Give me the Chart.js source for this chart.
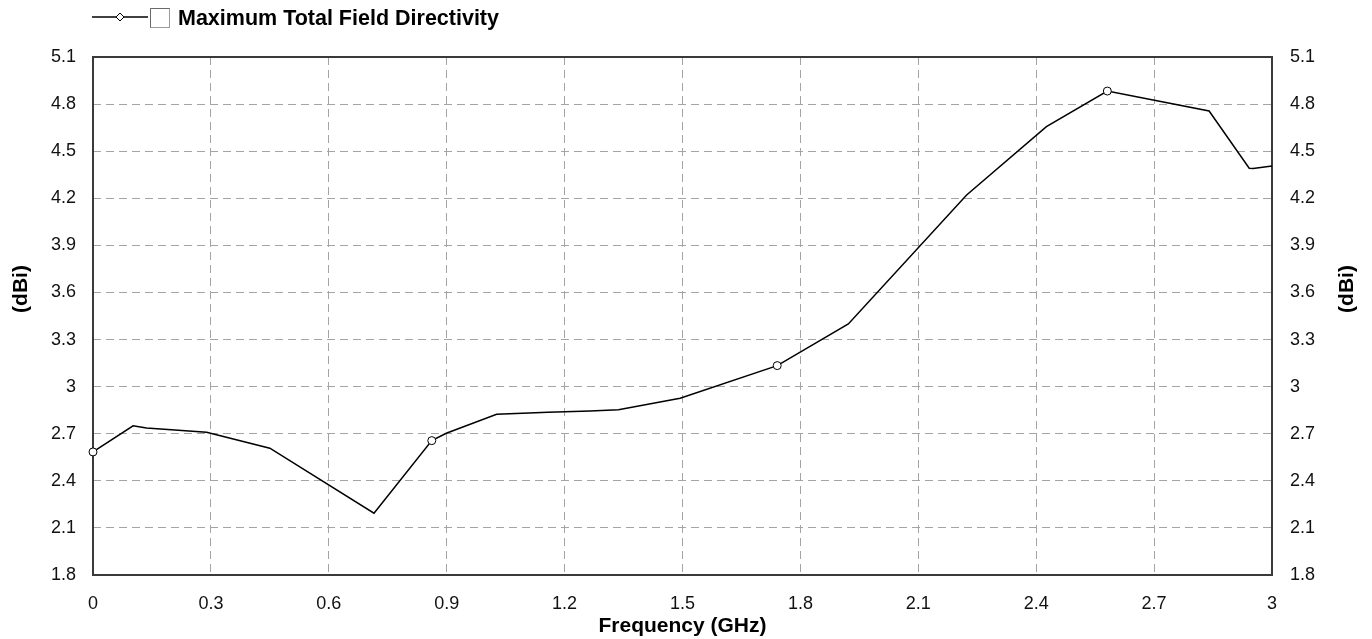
<!DOCTYPE html>
<html>
<head>
<meta charset="utf-8">
<script src="https://cdn.jsdelivr.net/npm/chart.js@4.4.1/dist/chart.umd.min.js"></script>
<style>
  html, body { margin: 0; padding: 0; background: #ffffff; }
  #wrap { width: 1372px; height: 639px; }
</style>
</head>
<body>
<div id="wrap"><canvas id="c" width="1372" height="639"></canvas></div>
<script>
// ---- data ----
const freqGHz = [0, 0.102, 0.136, 0.289, 0.45, 0.715, 0.862, 0.899, 1.027, 1.158, 1.265, 1.337, 1.494, 1.741, 1.922, 2.223, 2.426, 2.581, 2.84, 2.942, 2.952, 3.0];
const directivityDBi = [2.584, 2.75, 2.737, 2.71, 2.608, 2.194, 2.656, 2.703, 2.824, 2.837, 2.845, 2.853, 2.926, 3.134, 3.399, 4.221, 4.656, 4.883, 4.756, 4.391, 4.39, 4.406];
const markerIndices = [0, 6, 13, 17];
const xTicks = [0, 0.3, 0.6, 0.9, 1.2, 1.5, 1.8, 2.1, 2.4, 2.7, 3];
const yTicks = [1.8, 2.1, 2.4, 2.7, 3, 3.3, 3.6, 3.9, 4.2, 4.5, 4.8, 5.1];
const seriesName = 'Maximum Total Field Directivity';
const xTitle = 'Frequency (GHz)';
const yTitle = '(dBi)';

const FONT = '"Liberation Sans", Arial, sans-serif';
const GRID = '#a4a4a4';

const points = freqGHz.map((f, i) => ({ x: f, y: directivityDBi[i] }));
const fmt = v => String(+Number(v).toFixed(2));

const framePlugin = {
  id: 'frame',
  beforeDatasetsDraw(chart) {
    const { ctx, chartArea: a } = chart;
    ctx.save();
    ctx.strokeStyle = '#3a3a3a';
    ctx.lineWidth = 2;
    ctx.strokeRect(a.left, a.top, a.right - a.left, a.bottom - a.top);
    ctx.restore();
  },
  afterDraw(chart) {
    const { ctx } = chart;
    ctx.save();
    // y axis titles (both read bottom-to-top)
    ctx.font = 'bold 21px ' + FONT;
    ctx.fillStyle = '#000';
    ctx.textAlign = 'center';
    ctx.textBaseline = 'middle';
    [21, 1347].forEach(x => {
      ctx.save();
      ctx.translate(x, 289);
      ctx.rotate(-Math.PI / 2);
      ctx.fillText(yTitle, 0, 0);
      ctx.restore();
    });
    // legend
    ctx.strokeStyle = '#000';
    ctx.lineWidth = 1.5;
    ctx.beginPath();
    ctx.moveTo(92, 17);
    ctx.lineTo(148, 17);
    ctx.stroke();
    ctx.fillStyle = '#fff';
    ctx.lineWidth = 1;
    ctx.beginPath();
    ctx.moveTo(120, 13); ctx.lineTo(124, 17); ctx.lineTo(120, 21); ctx.lineTo(116, 17); ctx.closePath();
    ctx.fill(); ctx.stroke();
    // checkbox
    ctx.fillStyle = '#fff';
    ctx.fillRect(150.5, 8.5, 19, 19);
    ctx.strokeStyle = '#9a9a9a';
    ctx.strokeRect(150.5, 8.5, 19, 19);
    ctx.strokeStyle = '#6a6a6a';
    ctx.beginPath(); ctx.moveTo(150.5, 27.5); ctx.lineTo(150.5, 8.5); ctx.lineTo(169.5, 8.5); ctx.stroke();
    ctx.fillStyle = '#000';
    ctx.textAlign = 'left';
    ctx.font = 'bold 21.5px ' + FONT;
    ctx.fillText(chart.data.datasets[0].label, 178, 19);
    ctx.restore();
  }
};

new Chart(document.getElementById('c'), {
  type: 'line',
  data: {
    datasets: [{
      label: seriesName,
      data: points,
      borderColor: '#000',
      borderWidth: 1.5,
      tension: 0,
      fill: false,
      clip: 8,
      pointStyle: 'circle',
      pointRadius: ctx => markerIndices.includes(ctx.dataIndex) ? 4 : 0,
      pointHoverRadius: 0,
      pointBackgroundColor: '#fff',
      pointBorderColor: '#000',
      pointBorderWidth: 1
    }]
  },
  options: {
    responsive: false,
    animation: false,
    events: [],
    layout: { padding: { top: 57, left: 0, right: 0, bottom: 0 } },
    plugins: { legend: { display: false }, tooltip: { enabled: false } },
    scales: {
      x: {
        type: 'linear',
        min: 0, max: 3,
        afterBuildTicks: s => { s.ticks = xTicks.map(v => ({ value: v })); },
        afterFit: s => { s.height = 64; },
        grid: { color: GRID, lineWidth: 1, drawTicks: false },
        border: { display: false, dash: [8, 5] },
        ticks: { padding: 18, color: '#111', font: { family: FONT, size: 18 }, callback: v => fmt(v), maxRotation: 0, autoSkip: false },
        title: { display: true, text: xTitle, color: '#000', font: { family: FONT, size: 21, weight: 'bold', lineHeight: 1.2 }, padding: { top: 0, bottom: 0 } }
      },
      y: {
        type: 'linear', position: 'left',
        min: 1.8, max: 5.1,
        afterBuildTicks: s => { s.ticks = yTicks.map(v => ({ value: v })); },
        afterFit: s => { s.width = 93; },
        grid: { color: GRID, lineWidth: 1, drawTicks: false },
        border: { display: false, dash: [8, 5] },
        ticks: { padding: 17, color: '#111', font: { family: FONT, size: 18 }, callback: v => fmt(v), autoSkip: false }
      },
      y2: {
        type: 'linear', position: 'right',
        min: 1.8, max: 5.1,
        afterBuildTicks: s => { s.ticks = yTicks.map(v => ({ value: v })); },
        afterFit: s => { s.width = 100; },
        grid: { display: false, drawTicks: false },
        border: { display: false },
        ticks: { padding: 18, color: '#111', font: { family: FONT, size: 18 }, callback: v => fmt(v), autoSkip: false }
      }
    }
  },
  plugins: [framePlugin]
});
</script>
</body>
</html>
